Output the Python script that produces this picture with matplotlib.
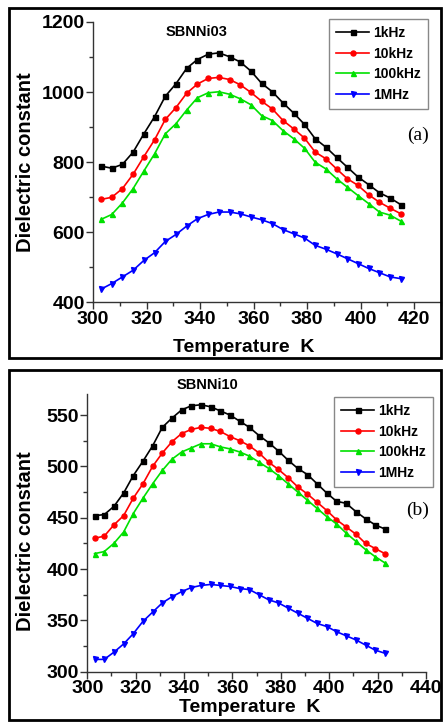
import matplotlib
matplotlib.use("Agg")
import matplotlib.pyplot as plt
from matplotlib.patches import Rectangle
from matplotlib.ticker import MultipleLocator

plt.rcParams['font.family'] = ['Liberation Sans', 'DejaVu Sans']
plt.rcParams['font.weight'] = 'bold'

# Panel (a): SBNNi03
temp_a = list(range(303, 416, 4))
a_1khz = [789, 783, 794, 829, 881, 930, 988, 1024, 1068, 1093, 1108, 1112, 1101, 1086, 1060,
          1025, 1001, 969, 940, 908, 867, 843, 814, 786, 758, 736, 713, 698, 679]
a_10khz = [694, 700, 725, 766, 816, 864, 922, 956, 997, 1023, 1039, 1042, 1036, 1021, 999,
           974, 952, 919, 895, 869, 829, 810, 781, 753, 734, 707, 686, 669, 653]
a_100khz = [637, 651, 684, 725, 775, 824, 881, 910, 949, 984, 998, 1001, 994, 981, 964,
            933, 919, 890, 867, 840, 800, 781, 753, 729, 705, 682, 658, 649, 632]
a_1mhz = [438, 454, 473, 492, 520, 542, 574, 594, 618, 639, 651, 658, 658, 653, 644,
          636, 625, 608, 596, 584, 563, 552, 539, 525, 511, 497, 485, 473, 468]

# Panel (b): SBNNi10
temp_b = list(range(303, 424, 4))
b_1khz = [452, 453, 461, 474, 491, 505, 520, 538, 547, 555, 559, 560, 558, 554, 550, 544,
          538, 530, 523, 515, 506, 498, 492, 483, 474, 466, 464, 456, 449, 443, 439]
b_10khz = [430, 432, 443, 452, 469, 483, 500, 513, 524, 532, 536, 538, 537, 534, 529, 525,
           520, 513, 504, 497, 489, 480, 473, 465, 457, 448, 441, 434, 425, 420, 415]
b_100khz = [415, 417, 425, 436, 454, 469, 483, 496, 507, 514, 518, 522, 522, 519, 517, 514,
            510, 504, 498, 491, 483, 475, 467, 459, 451, 444, 435, 427, 419, 412, 406]
b_1mhz = [312, 312, 319, 327, 337, 349, 358, 367, 373, 378, 382, 384, 385, 384, 383, 381,
          380, 375, 370, 367, 362, 357, 352, 347, 344, 339, 335, 331, 326, 321, 318]

labels = ['1kHz', '10kHz', '100kHz', '1MHz']
colors = ['black', '#ff0000', '#00e000', '#0000ff']
markers = ['s', 'o', '^', 'v']

W, H = 443, 722
fig = plt.figure(figsize=(W / 100, H / 100), dpi=100)


def fx(px):
    return px / W


def fy(py):
    return 1 - py / H


def setup_axis(ax, xlim, ylim, xmaj, ymaj, xmax_label):
    ax.set_xlim(*xlim)
    ax.set_ylim(*ylim)
    ax.set_xticks(range(300, xmax_label + 1, xmaj))
    ax.xaxis.set_minor_locator(MultipleLocator(xmaj / 2))
    ax.yaxis.set_major_locator(MultipleLocator(ymaj))
    ax.yaxis.set_minor_locator(MultipleLocator(ymaj / 2))
    ax.spines['top'].set_visible(False)
    ax.spines['right'].set_visible(False)
    for s in ('left', 'bottom'):
        ax.spines[s].set_linewidth(1.0)
        ax.spines[s].set_color('#333333')
    ax.tick_params(which='major', direction='out', length=5, width=1, labelsize=14, pad=1,
                   color='#333333')
    ax.tick_params(which='minor', direction='out', length=3, width=1, color='#333333')


def draw_panel(ax, temp, series):
    for vals, lab, c, m in zip(series, labels, colors, markers):
        ax.plot(temp, vals, color=c, marker=m, markersize=3.6, linewidth=1.2, label=lab)


def add_legend(ax, x, y):
    leg = ax.legend(loc='upper left', bbox_to_anchor=(fx(x), fy(y)),
                    bbox_transform=fig.transFigure, prop={'weight': 'bold', 'size': 10},
                    handlelength=2.4, labelspacing=0.48, borderpad=0.5, handletextpad=0.3,
                    borderaxespad=0, fancybox=False, framealpha=1, edgecolor='#888888')
    leg.get_frame().set_linewidth(1.0)


# panel boxes
for top, bot in ((8, 358), (370, 720)):
    fig.patches.append(Rectangle((fx(9), fy(bot)), fx(441) - fx(9), fy(top) - fy(bot),
                                 transform=fig.transFigure, fill=False, edgecolor='black',
                                 linewidth=2))

# (a)
ax1 = fig.add_axes([fx(93), fy(302.5), fx(441) - fx(93), fy(22) - fy(302.5)])
draw_panel(ax1, temp_a, [a_1khz, a_10khz, a_100khz, a_1mhz])
setup_axis(ax1, (300, 430), (400, 1200), 20, 200, 420)
add_legend(ax1, 329, 19)
fig.text(fx(197), fy(32), 'SBNNi03', ha='center', va='center', fontsize=10.5, fontweight='bold')
fig.text(fx(418), fy(135), '(a)', ha='center', va='center', fontsize=14,
         family='Liberation Serif', fontweight='normal')
fig.text(fx(26), fy(162), 'Dielectric constant', rotation=90, ha='center', va='center',
         fontsize=14.5, fontweight='bold')
fig.text(fx(244), fy(347), 'Temperature  K', ha='center', va='center', fontsize=14,
         fontweight='bold')

# (b)
ax2 = fig.add_axes([fx(87.3), fy(671.7), fx(426) - fx(87.3), fy(394.5) - fy(671.7)])
draw_panel(ax2, temp_b, [b_1khz, b_10khz, b_100khz, b_1mhz])
setup_axis(ax2, (300, 440), (300, 570), 20, 50, 440)
add_legend(ax2, 334, 397)
fig.text(fx(207), fy(385), 'SBNNi10', ha='center', va='center', fontsize=10.5, fontweight='bold')
fig.text(fx(418), fy(510), '(b)', ha='center', va='center', fontsize=14,
         family='Liberation Serif', fontweight='normal')
fig.text(fx(26), fy(541), 'Dielectric constant', rotation=90, ha='center', va='center',
         fontsize=14.5, fontweight='bold')
fig.text(fx(250), fy(708), 'Temperature  K', ha='center', va='center', fontsize=14,
         fontweight='bold')

fig.savefig('out.png', dpi=100)
